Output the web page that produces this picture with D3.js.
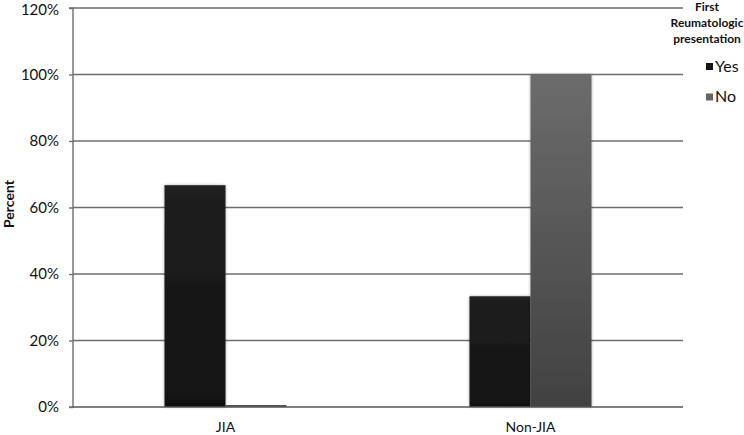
<!DOCTYPE html>
<html><head><meta charset="utf-8">
<script src="https://cdn.jsdelivr.net/npm/d3@7"></script>
<style>body{margin:0;background:#fff;} text{font-family:Lato,"Open Sans",sans-serif;}</style>
</head><body>
<svg id="c" width="744" height="435"></svg>
<script>
const categories = ["JIA", "Non-JIA"];
const seriesNames = ["Yes", "No"];
const yesValues = [66.7, 33.3];
const noValues = [0, 100];
const yTicks = [0, 20, 40, 60, 80, 100, 120];
const legendTitle = ["First", "Reumatologic", "presentation"];

const svg = d3.select("#c");
const m = {left:73, right:683, top:8, bottom:407};
const x0 = d3.scaleBand().domain(categories).range([m.left, m.right]).padding(0);
const x1 = d3.scaleBand().domain(seriesNames).range([0, x0.bandwidth()]).paddingInner(0).paddingOuter(1.5);
const y = d3.scaleLinear().domain([0, 120]).range([m.bottom, m.top]);

const defs = svg.append("defs");
const g1 = defs.append("linearGradient").attr("id","gYes").attr("x1",0).attr("y1",0).attr("x2",0).attr("y2",1);
g1.append("stop").attr("offset","0%").attr("stop-color","#202020");
g1.append("stop").attr("offset","100%").attr("stop-color","#111111");
const g2 = defs.append("linearGradient").attr("id","gNo").attr("x1",0).attr("y1",0).attr("x2",0).attr("y2",1);
g2.append("stop").attr("offset","0%").attr("stop-color","#6c6c6c");
g2.append("stop").attr("offset","100%").attr("stop-color","#414141");
const f = defs.append("filter").attr("id","sh").attr("x","-20%").attr("y","-20%").attr("width","140%").attr("height","140%");
f.append("feGaussianBlur").attr("in","SourceAlpha").attr("stdDeviation",1.5).attr("result","b");
f.append("feOffset").attr("in","b").attr("dx",0).attr("dy",0).attr("result","o");
f.append("feComponentTransfer").attr("in","o").attr("result","o2").append("feFuncA").attr("type","linear").attr("slope",0.35);
const mg = f.append("feMerge"); mg.append("feMergeNode").attr("in","o2"); mg.append("feMergeNode").attr("in","SourceGraphic");

// gridlines
const yAxis = d3.axisLeft(y).tickValues(yTicks).tickFormat(d => d + "%").tickSize(4).tickPadding(10);
svg.append("g").selectAll("line").data(yTicks.filter(d=>d>0)).join("line")
  .attr("x1", m.left).attr("x2", m.right).attr("y1", d=>y(d)).attr("y2", d=>y(d))
  .attr("stroke","#6e6e6e").attr("stroke-width",1.4);

const ax = svg.append("g").attr("transform",`translate(${m.left},0)`).call(yAxis);
ax.select(".domain").attr("stroke","#6e6e6e").attr("stroke-width",1.4).attr("d",`M-4,${y(120)}H0V${y(0)}H-4`);
ax.selectAll(".tick line").attr("stroke","#6e6e6e").attr("stroke-width",1.4);
ax.selectAll(".tick text").attr("font-size",15).attr("fill","#111").attr("font-family","Lato")
  .attr("dy", (d)=> d===120 ? "0.42em" : "0.32em");

// bars
const data = categories.map((c,i)=>({cat:c, vals:[{s:"Yes",v:yesValues[i]},{s:"No",v:noValues[i]}]}));
const fillMap = {Yes:"url(#gYes)", No:"url(#gNo)"};
const gb = svg.append("g");
data.forEach(d=>{
  gb.selectAll(null).data(d.vals).join("rect")
    .attr("x", v=>x0(d.cat)+x1(v.s)).attr("width", x1.bandwidth())
    .attr("y", v=>y(v.v)).attr("height", v=>y(0)-y(v.v))
    .attr("fill", v=>fillMap[v.s]).attr("filter","url(#sh)");
});
// zero-value marker line
data.forEach(d=>{
  d.vals.filter(v=>v.v===0).forEach(v=>{
    gb.append("line").attr("x1",x0(d.cat)+x1(v.s)).attr("x2",x0(d.cat)+x1(v.s)+x1.bandwidth())
      .attr("y1",y(0)-1).attr("y2",y(0)-1).attr("stroke","#555").attr("stroke-width",2);
  });
});

// x axis baseline
svg.append("line").attr("x1",m.left).attr("x2",m.right).attr("y1",y(0)).attr("y2",y(0)).attr("stroke","#555").attr("stroke-width",1.4);
svg.append("g").selectAll("text").data(categories).join("text")
  .attr("x", d=>x0(d)+x0.bandwidth()/2).attr("y", 432).attr("text-anchor","middle")
  .attr("font-size",14).attr("fill","#111").text(d=>d);

// y title
svg.append("text").attr("transform","translate(14,204) rotate(-90)").attr("text-anchor","middle")
  .attr("font-size",14).attr("font-weight","bold").attr("fill","#111").text("Percent");

// legend
svg.append("g").selectAll("text").data(legendTitle).join("text")
  .attr("x",707).attr("y",(d,i)=>11+i*16).attr("text-anchor","middle")
  .attr("font-size",12).attr("font-weight","bold").attr("fill","#111").text(d=>d);
const legColors = {Yes:"#151515", No:"#656565"};
const lg = svg.append("g").selectAll("g").data(seriesNames).join("g")
  .attr("transform",(d,i)=>`translate(706,${63+i*30.5})`);
lg.append("rect").attr("width",7).attr("height",7).attr("fill",d=>legColors[d]);
lg.append("text").attr("x",9).attr("y",8.5).attr("font-size",16).attr("fill","#111").text(d=>d);
</script>
</body></html>
